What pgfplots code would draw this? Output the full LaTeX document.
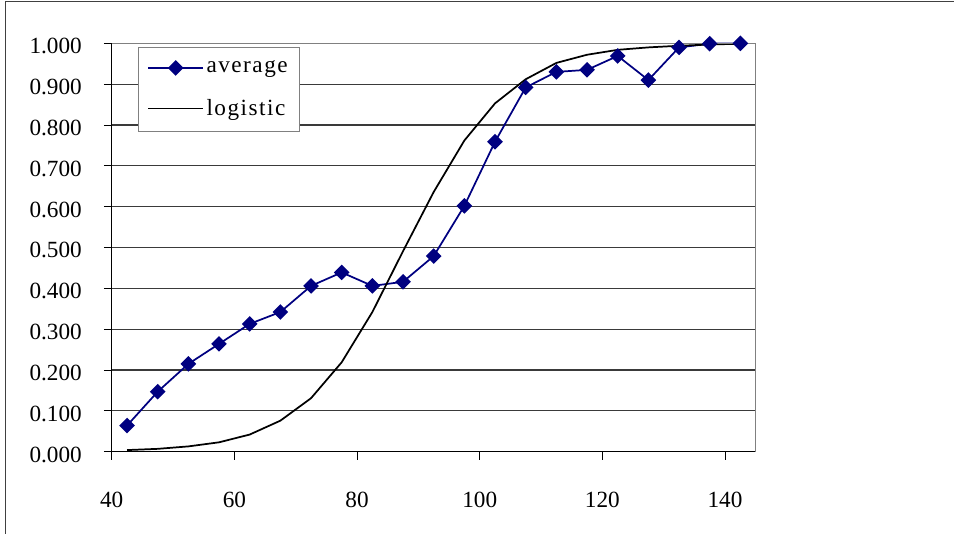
\documentclass[border=0pt]{standalone}
\usepackage{pgfplots}
\pgfplotsset{compat=1.18}
\usepackage{fontspec}
\setmainfont{Liberation Serif}
\definecolor{navy}{HTML}{000080}
\definecolor{gridc}{HTML}{3A3A3A}
\definecolor{framec}{HTML}{404040}
\begin{document}
\begin{tikzpicture}
\useasboundingbox (0,0) rectangle (715.5pt,-399.75pt);
\draw[framec, line width=1.1pt] (4.3pt,-410pt) -- (4.3pt,-1.3pt) -- (725pt,-1.3pt);
\begin{axis}[
  at={(83.775pt,-338.775pt)}, anchor=south west,
  scale only axis, width=483pt, height=306.3pt,
  xmin=40, xmax=145, ymin=0, ymax=1,
  xtick={40,60,...,140}, ytick={0,0.1,...,1.0},
  axis x line*=bottom, axis y line*=left,
  axis line style={black, line width=0.9pt, -},
  tick align=outside, major tick length=5.8pt,
  tick style={black, line width=0.7pt},
  xtick style={/pgfplots/major tick length=6pt},
  ymajorgrids, grid style={gridc, line width=0.8pt},
  /pgf/number format/assume math mode=true,
  yticklabel={\pgfmathprintnumber[fixed, fixed zerofill, precision=3]{\tick}},
  tick label style={font=\fontsize{17.4}{20}\selectfont},
  yticklabel style={anchor=east, inner sep=0pt, xshift=-16.5pt, yshift=-2.2pt},
  xticklabel style={anchor=base, inner sep=0pt, yshift=-35.7pt},
  legend style={at={(rel axis cs:0.0404,0.992)}, anchor=north west,
    draw=gray, line width=0.6pt, fill=white, inner xsep=7pt, inner ysep=8.5pt,
    font=\fontsize{17.4}{20}\selectfont\addfontfeatures{LetterSpace=6.5},
    row sep=14.5pt, cells={anchor=west}},
  legend image code/.code={\draw[mark repeat=2,mark phase=2,#1] plot coordinates {(0pt,0pt) (20.5pt,0pt) (41pt,0pt)};},
  clip=false,
]
\addplot[navy, line width=1.3pt, mark=square*, mark size=3.5pt, mark options={rotate=45, solid, fill=navy}] coordinates {
(42.5,0.064) (47.5,0.147) (52.5,0.215) (57.5,0.264) (62.5,0.313)
(67.5,0.342) (72.5,0.406) (77.5,0.439) (82.5,0.406) (87.5,0.416)
(92.5,0.479) (97.5,0.602) (102.5,0.759) (107.5,0.892) (112.5,0.930)
(117.5,0.935) (122.5,0.969) (127.5,0.910) (132.5,0.990) (137.5,0.999)
(142.5,1.000)};
\addlegendentry{average}
\addplot[black, line width=1.3pt] coordinates {
(42.5,0.004) (47.5,0.007) (52.5,0.013) (57.5,0.023) (62.5,0.042)
(67.5,0.076) (72.5,0.131) (77.5,0.219) (82.5,0.342) (87.5,0.491)
(92.5,0.636) (97.5,0.762) (102.5,0.853) (107.5,0.912) (112.5,0.952)
(117.5,0.972) (122.5,0.984) (127.5,0.990) (132.5,0.994) (137.5,0.997)
(142.5,0.999)};
\addlegendentry{logistic}
\draw[gray, line width=1.1pt] (rel axis cs:1,0) -- (rel axis cs:1,1);
\draw[gray, line width=0.8pt] (rel axis cs:0,1) -- (rel axis cs:1,1);
\end{axis}
\end{tikzpicture}
\end{document}
